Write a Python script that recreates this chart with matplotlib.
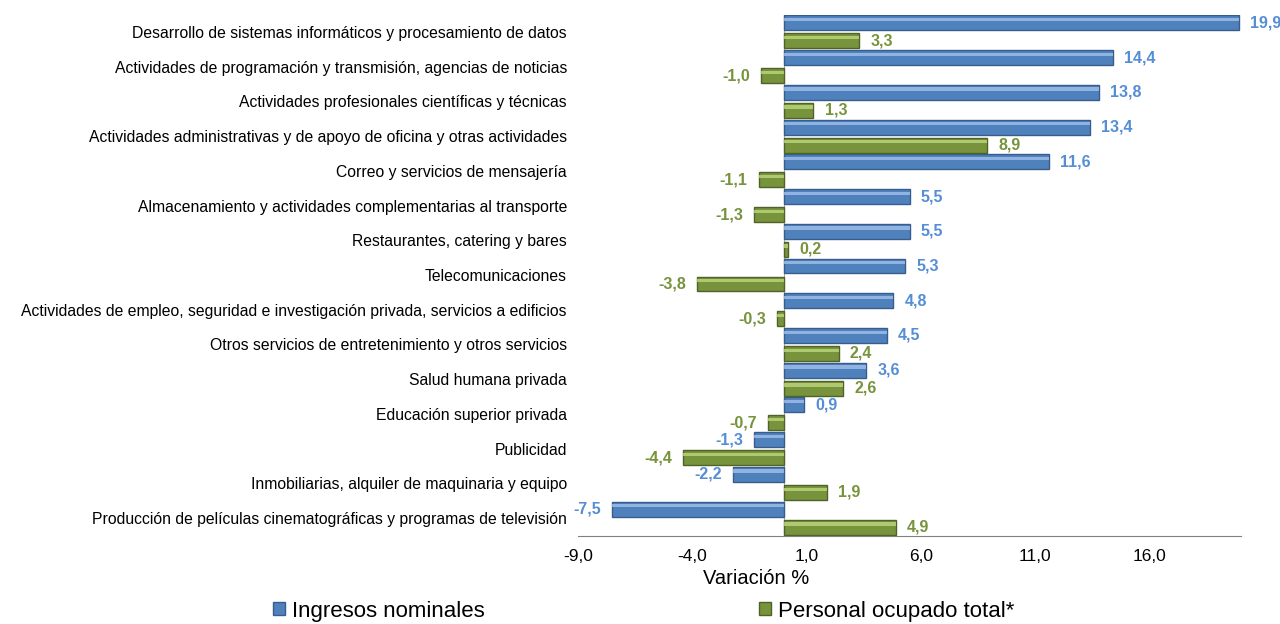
import numpy as np
import matplotlib.pyplot as plt
from matplotlib.patches import Patch

# Data
categorias = [
    'Desarrollo de sistemas informáticos y procesamiento de datos',
    'Actividades de programación y transmisión, agencias de noticias',
    'Actividades profesionales científicas y técnicas',
    'Actividades administrativas y de apoyo de oficina y otras actividades',
    'Correo y servicios de mensajería',
    'Almacenamiento y actividades complementarias al transporte',
    'Restaurantes, catering y bares',
    'Telecomunicaciones',
    'Actividades de empleo, seguridad e investigación privada, servicios a edificios',
    'Otros servicios de entretenimiento y otros servicios',
    'Salud humana privada',
    'Educación superior privada',
    'Publicidad',
    'Inmobiliarias, alquiler de maquinaria y equipo',
    'Producción de películas cinematográficas y programas de televisión',
]
ingresos = [19.9, 14.4, 13.8, 13.4, 11.6, 5.5, 5.5, 5.3, 4.8, 4.5, 3.6, 0.9, -1.3, -2.2, -7.5]
personal = [3.3, -1.0, 1.3, 8.9, -1.1, -1.3, 0.2, -3.8, -0.3, 2.4, 2.6, -0.7, -4.4, 1.9, 4.9]
xticks = [-9, -4, 1, 6, 11, 16]
series_names = ['Ingresos nominales', 'Personal ocupado total*']

# Style
font = ['Liberation Sans', 'DejaVu Sans']
blue, blue_dark, blue_light, blue_text = '#4F81BD', '#385D8A', '#A7C4EE', '#558ED5'
green, green_dark, green_light, green_text = '#77933C', '#4F6228', '#C3DC84', '#77933C'
bar_h = 0.43
off = 0.26

fig = plt.figure(figsize=(12.8, 6.24), dpi=100)
ax = fig.add_axes([578 / 1280, 1 - 535.5 / 624, (1241 - 578) / 1280, (535.5 - 14.5) / 624])

y = np.arange(len(categorias))


def bevel_bars(vals, ypos, c, c_dark, c_light):
    ax.barh(ypos, vals, height=bar_h, color=c, edgecolor=c_dark, linewidth=1.0, zorder=2)
    # lighter top strip to mimic the bevel look
    ax.barh(ypos - bar_h * 0.22, vals, height=bar_h * 0.22, color=c_light, linewidth=0,
            alpha=0.75, zorder=3)


bevel_bars(ingresos, y - off, blue, blue_dark, blue_light)
bevel_bars(personal, y + off, green, green_dark, green_light)

for vals, ypos, tc in [(ingresos, y - off, blue_text), (personal, y + off, green_text)]:
    for v, yy in zip(vals, ypos):
        ax.annotate(f'{v:.1f}'.replace('.', ','), xy=(v, yy),
                    xytext=(8 if v >= 0 else -8, 0), textcoords='offset points',
                    ha='left' if v >= 0 else 'right', va='center',
                    color=tc, fontsize=11.5, fontweight='bold', family=font,
                    annotation_clip=False)

ax.axvline(0, color='#A6A6A6', linewidth=0.8, zorder=1)

ax.set_xlim(-9, 20)
ax.set_ylim(len(categorias) - 0.5, -0.5)
ax.set_xticks(xticks)
ax.set_xticklabels([f'{t:.1f}'.replace('.', ',') for t in xticks], family=font, fontsize=12.5)
ax.set_yticks(y)
ax.set_yticklabels(categorias, family=font, fontsize=11.3)
ax.tick_params(axis='y', length=0, pad=8)
ax.tick_params(axis='x', length=0, pad=10)
ax.set_xlabel('Variación %', family=font, fontsize=14.5)
ax.xaxis.set_label_coords((756 - 578) / 663, -(579 - 535.5) / 521)
ax.xaxis.label.set_verticalalignment('center')

for s in ['top', 'right', 'left']:
    ax.spines[s].set_visible(False)
ax.spines['bottom'].set_color('#808080')

handles = [Patch(facecolor=blue, edgecolor=blue_dark), Patch(facecolor=green, edgecolor=green_dark)]
for h, name, x0 in zip(handles, series_names, [273, 759]):
    fig.legend([h], [name], loc='center left', bbox_to_anchor=(x0 / 1280, 1 - 611 / 624),
               frameon=False, prop={'family': font, 'size': 16}, borderpad=0, borderaxespad=0,
               handlelength=0.55, handleheight=0.55, handletextpad=0.3)

fig.savefig('out.png', dpi=100)
